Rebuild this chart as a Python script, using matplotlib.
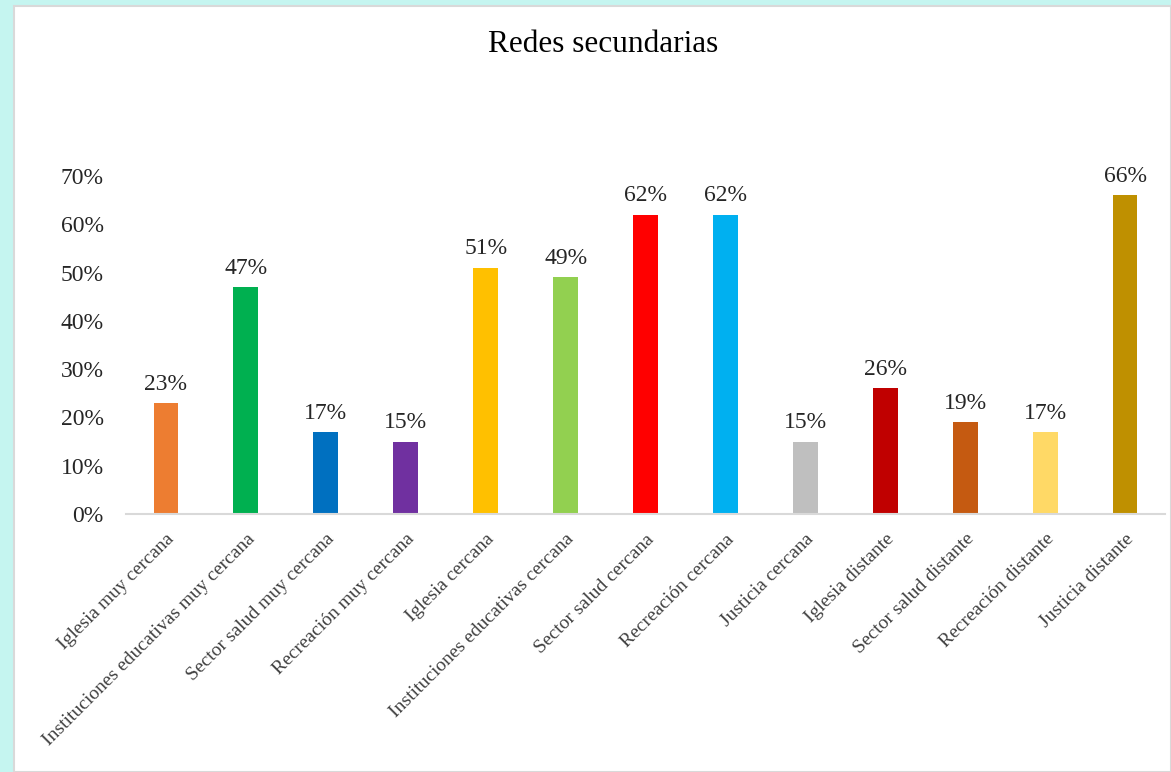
import numpy as np
import matplotlib
matplotlib.use("Agg")
from matplotlib import pyplot as plt
from matplotlib.patches import Rectangle
from matplotlib.ticker import PercentFormatter

categories = ["Iglesia muy cercana", "Instituciones educativas muy cercana",
              "Sector salud muy cercana", "Recreación muy cercana",
              "Iglesia cercana", "Instituciones educativas cercana",
              "Sector salud cercana", "Recreación cercana", "Justicia cercana",
              "Iglesia distante", "Sector salud distante",
              "Recreación distante", "Justicia distante"]
values = [0.23, 0.47, 0.17, 0.15, 0.51, 0.49, 0.62, 0.62, 0.15, 0.26, 0.19, 0.17, 0.66]
colors = ["#ED7D31", "#00B050", "#0070C0", "#7030A0", "#FFC000", "#92D050",
          "#FF0000", "#00B0F0", "#BFBFBF", "#C00000", "#C55A11", "#FFD966", "#BF9000"]

plt.rcParams['font.family'] = ['Liberation Serif', 'DejaVu Serif']

fig = plt.figure(figsize=(11.71, 7.72), dpi=100)
fig.patch.set_facecolor("#C5F5F0")
# white chart panel behind everything
fig.patches.append(Rectangle((14/1171, 0), 1 - 14/1171, 1 - 6/772, transform=fig.transFigure,
                             facecolor="white", edgecolor="#D9D9D9", linewidth=1.5, zorder=-10))

ax = fig.add_axes([126/1171, 1 - 514/772, (1165 - 126)/1171, (514 - 176)/772])
ax.set_facecolor("none")

x = np.arange(len(categories))
ax.bar(x, values, width=0.31, color=colors)
for xi, v in zip(x, values):
    ax.annotate("%d%%" % round(v*100), (xi, v), xytext=(0, 6), textcoords="offset points",
                ha="center", va="bottom", fontsize=17, color="#262626")

ax.set_xlim(-0.5, len(categories) - 0.5)
ax.set_ylim(0, 0.70)
ax.set_yticks(np.arange(0, 0.71, 0.1))
ax.yaxis.set_major_formatter(PercentFormatter(1.0, decimals=0))
ax.tick_params(axis="y", length=0, pad=16, labelsize=17, labelcolor="#262626")
ax.set_xticks(x)
ax.set_xticklabels(categories, rotation=45, ha="right", va="top", rotation_mode="anchor",
                   fontsize=14, color="#404040")
ax.tick_params(axis="x", length=0, pad=12)
for s in ["top", "right", "left"]:
    ax.spines[s].set_visible(False)
ax.spines["bottom"].set_color("#D9D9D9")
ax.spines["bottom"].set_linewidth(1.5)

fig.text(603/1171, 1 - 45/772, "Redes secundarias", ha="center", va="center",
         fontsize=22.5, color="black")

fig.savefig("out.png", dpi=100, facecolor=fig.get_facecolor())
